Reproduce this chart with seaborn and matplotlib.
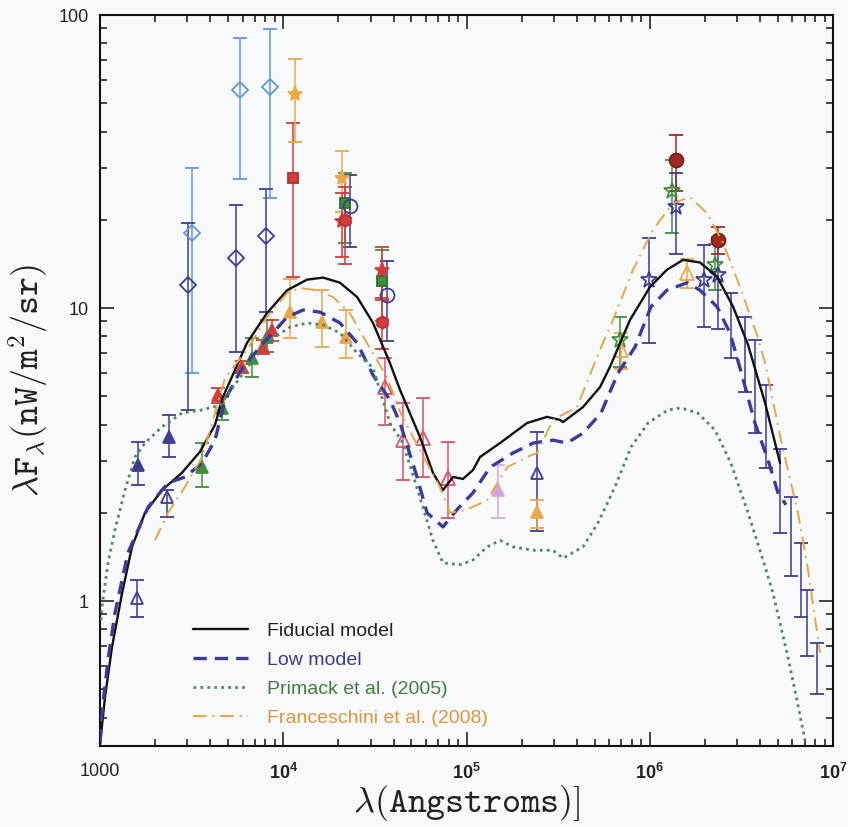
import numpy as np
import pandas as pd
import seaborn as sns
import matplotlib
matplotlib.use("Agg")
import matplotlib.pyplot as plt
from matplotlib.ticker import FixedLocator, FixedFormatter, NullFormatter, LogLocator

# ---------------- model curves (wavelength in Angstrom, nW/m^2/sr) ----------------
fid_wl = [1000, 1065, 1163, 1318, 1495, 1760, 2180, 2800, 3510, 4240, 4690, 5450, 6340, 8150, 10500,
          13500, 16500, 20400, 25300, 30900, 38200, 43400, 55700, 65600, 74400, 84400, 95700, 108500,
          118500, 152400, 213900, 274900, 323900, 336200, 432100, 535300, 606900, 779800, 1.003e6,
          1.24e6, 1.52e6, 1.88e6, 2.33e6, 2.85e6, 3.44e6, 4.26e6, 5.14e6]
fid_val = [0.323, 0.47, 0.697, 1.06, 1.53, 2.0, 2.39, 2.74, 3.23, 3.99, 4.97, 6.14, 7.60, 9.61, 11.5,
           12.5, 12.7, 12.2, 10.9, 8.89, 6.49, 5.25, 3.63, 2.74, 2.39, 2.65, 2.61, 2.80,
           3.10, 3.46, 4.05, 4.25, 4.15, 4.08, 4.59, 5.37, 6.30, 9.10, 11.8,
           13.5, 14.6, 14.3, 12.8, 10.1, 7.48, 4.74, 2.96]

low_wl = [1000, 1025, 1106, 1207, 1421, 1828, 2350, 2910, 3610, 4240, 4810, 5810, 7460, 10500, 12800,
          15900, 20400, 25300, 30900, 38200, 43400, 53700, 60900, 74400, 88700, 108500, 134400, 179400,
          230700, 296500, 353600, 432100, 542000, 671000, 831000, 1.016e6, 1.24e6, 1.6e6, 1.88e6,
          2.33e6, 2.74e6, 3.15e6, 3.75e6, 4.42e6, 5.01e6, 5.54e6]
low_val = [0.330, 0.415, 0.63, 0.91, 1.46, 2.09, 2.53, 2.65, 2.96, 3.54, 4.86, 6.06, 7.36, 9.31, 9.84,
           9.68, 8.89, 7.60, 5.90, 4.86, 4.05, 2.65, 2.0, 1.79, 2.05, 2.34, 2.86, 3.20,
           3.46, 3.54, 3.46, 3.74, 4.38, 6.0, 7.36, 10.1, 11.5, 12.2, 11.5,
           10.1, 8.22, 6.06, 4.05, 3.03, 2.34, 2.13]

pri_wl = [1013, 1025, 1106, 1207, 1369, 1552, 1760, 2180, 2800, 3610, 4520, 5320, 6840, 8470, 10900,
          13500, 16500, 20400, 25300, 30900, 38200, 45000, 55700, 65600, 74400, 92100, 108500, 129400,
          152400, 179400, 230700, 296500, 336200, 432100, 522000, 646000, 790000, 978000, 1.26e6,
          1.48e6, 1.83e6, 2.27e6, 2.77e6, 3.44e6, 4.26e6, 4.71e6, 5.61e6, 6.36e6, 7.03e6]
pri_val = [0.86, 0.954, 1.35, 1.75, 2.39, 3.10, 3.46, 3.93, 4.38, 4.49, 4.66, 5.37, 6.65, 7.76, 8.61,
           8.89, 8.75, 8.22, 7.02, 6.24, 4.05, 3.46, 2.26, 1.61, 1.35, 1.33, 1.38, 1.53,
           1.61, 1.53, 1.49, 1.49, 1.40, 1.53, 1.85, 2.45, 3.35, 4.05, 4.49,
           4.56, 4.38, 3.83, 2.96, 2.0, 1.31, 1.06, 0.665, 0.459, 0.335]

fra_wl = [1995, 2350, 2910, 3610, 4240, 4810, 6340, 8150, 10500, 12300, 15300, 18700, 23100, 28600,
          36800, 43400, 55700, 71600, 81300, 100600, 129400, 166300, 213900, 242600, 296500, 400700,
          535300, 630000, 810000, 1.042e6, 1.34e6, 1.66e6, 2.05e6, 2.51e6, 3.11e6, 3.85e6, 4.26e6,
          5.2e6, 6.44e6, 7.3e6, 8.5e6]
fra_val = [1.61, 2.0, 2.45, 3.10, 4.38, 5.77, 7.2, 9.31, 11.25, 11.7, 11.5, 10.9, 9.61, 7.60,
           5.81, 4.42, 3.27, 2.45, 2.0, 2.05, 2.21, 2.86, 3.10, 3.20, 4.15, 4.59,
           7.2, 9.10, 13.5, 18.5, 22.8, 23.9, 21.1, 16.7, 11.8, 8.09, 6.49,
           3.54, 2.0, 1.28, 0.665]

model_labels = ["Fiducial model", "Low model", "Primack et al. (2005)", "Franceschini et al. (2008)"]

# ---------------- observational points ----------------
# navy open triangles
nv_ot_x = [1590, 2320, 242600]
nv_ot_y = [1.02, 2.26, 2.74]
nv_ot_lo = [0.14, 0.32, 1.0]
nv_ot_hi = [0.16, 0.13, 1.04]
# navy filled triangles
nv_ft_x = [1610, 2380]
nv_ft_y = [2.91, 3.63]
nv_ft_lo = [0.42, 0.54]
nv_ft_hi = [0.58, 0.68]
# navy open diamonds
nv_d_x = [3020, 5520, 8050]
nv_d_y = [12.0, 14.8, 17.6]
nv_d_e = [7.5, 7.7, 7.9]
# light blue open diamonds
lb_d_x = [3175, 5810, 8470]
lb_d_y = [18.0, 55.5, 56.8]
lb_d_e = [12.0, 28.0, 33.0]
# green filled triangles
gr_t_x = [3610, 4630, 6750, 8150]
gr_t_y = [2.86, 4.56, 6.75, 7.96]
gr_t_lo = [0.41, 0.40, 0.95, 0.90]
gr_t_hi = [0.60, 0.40, 1.15, 1.17]
# red filled triangles (rising optical part)
rd_t_x = [4400, 5960, 7750, 8680]
rd_t_y = [5.05, 6.30, 7.36, 8.42]
rd_t_e = [0.3, 0.3, 0.4, 0.7]
# orange filled triangles
or_t_x = [10900, 16300, 22000, 242600]
or_t_y = [9.69, 8.96, 7.96, 2.01]
or_t_lo = [1.79, 1.60, 1.21, 0.23]
or_t_hi = [2.91, 2.54, 1.88, 0.20]
# red filled square
rd_s_x = [11300]
rd_s_y = [27.8]
rd_s_e = [15.0]
# orange stars
or_st_x = [11600, 20900]
or_st_y = [53.8, 27.8]
or_st_e = [17.0, 6.6]
# green filled squares
gr_s_x = [21700, 34600]
gr_s_y = [22.8, 12.4]
gr_s_e = [6.1, 3.4]
# navy open circles
nv_c_x = [23100, 36800]
nv_c_y = [22.3, 11.1]
nv_c_e = [6.2, 3.4]
# red filled hexagons
rd_h_x = [21700, 34600]
rd_h_y = [20.0, 8.96]
rd_h_e = [5.9, 1.7]
# red stars
rd_st_x = [21000, 34600]
rd_st_y = [19.8, 13.5]
rd_st_e = [4.9, 2.7]
# pink-red open triangles
pk_t_x = [35900, 45000, 57900, 79300]
pk_t_y = [5.37, 3.54, 3.60, 2.63]
pk_t_lo = [1.38, 0.95, 0.95, 0.71]
pk_t_hi = [1.40, 1.20, 1.33, 0.86]
# lavender filled triangle
lv_t_x = [148600]
lv_t_y = [2.39]
lv_t_lo = [0.47]
lv_t_hi = [0.52]
# far-IR points
dr_c_x = [1.39e6, 2.36e6]
dr_c_y = [32.0, 17.1]
dr_c_e = [6.9, 1.8]
gr_st_x = [689000, 1.32e6, 2.27e6]
gr_st_y = [7.8, 25.1, 14.0]
gr_st_e = [1.5, 7.0, 2.5]
nv_st_x = [990000, 1.39e6, 1.98e6, 2.36e6]
nv_st_y = [12.5, 22.1, 12.5, 13.0]
nv_st_e = [4.9, 6.8, 3.9, 4.5]
or_ot_x = [697000, 1.60e6]
or_ot_y = [7.2, 13.2]
or_ot_e = [1.0, 1.5]
nv_bar_x = [2.77e6, 3.31e6, 3.75e6, 4.31e6, 5.14e6, 5.90e6, 6.69e6, 7.21e6, 8.18e6]
nv_bar_y = [9.0, 7.24, 5.75, 4.15, 2.5, 1.74, 1.23, 0.87, 0.6]
nv_bar_e = [2.25, 2.07, 2.0, 1.3, 0.8, 0.52, 0.35, 0.22, 0.12]

x_ticks = [1e3, 1e4, 1e5, 1e6, 1e7]
x_ticklabels = ["1000", r"$\mathbf{10^4}$", r"$\mathbf{10^5}$", r"$\mathbf{10^6}$", r"$\mathbf{10^7}$"]
y_ticks = [1, 10, 100]
y_ticklabels = ["1", "10", "100"]

# ---------------- style ----------------
sns.set_theme(style="ticks")
bg = "#f8f9fa"
plt.rcParams["font.family"] = ["Liberation Sans", "DejaVu Sans"]
plt.rcParams["mathtext.fontset"] = "custom"
plt.rcParams["mathtext.rm"] = "Liberation Sans"
plt.rcParams["mathtext.bf"] = "Liberation Sans:bold"
plt.rcParams["mathtext.it"] = "Liberation Sans:italic"

NAVY = "#3d3d94"
LBLUE = "#5b9bd5"
GREEN = "#3f8f3f"
RED = "#d23c3c"
DRED = "#9e2a22"
ORANGE = "#eaa84a"
PINK = "#d4546a"
LAV = "#d2a6e0"

fig = plt.figure(figsize=(8.48, 8.27), dpi=100, facecolor=bg)
ax = fig.add_axes([100 / 848, 1 - 746 / 827, 733 / 848, 731 / 827])
ax.set_facecolor(bg)
ax.set_xscale("log")
ax.set_yscale("log")
ax.set_xlim(1e3, 1e7)
ax.set_ylim(0.32, 100)

cap = 4.8


def pts(x, y, lo, hi, color, marker, filled, ms, z=3, mec=None):
    ax.errorbar(x, y, yerr=[lo, hi], fmt=marker, color=color,
                mfc=(color if filled else "none"), mec=(mec or color), ms=ms, mew=1.3,
                capsize=cap, elinewidth=1.1, capthick=1.1, zorder=z)


pts(lb_d_x, lb_d_y, lb_d_e, lb_d_e, LBLUE, "D", False, 8)
pts(nv_d_x, nv_d_y, nv_d_e, nv_d_e, NAVY, "D", False, 8)
pts(nv_ot_x, nv_ot_y, nv_ot_lo, nv_ot_hi, NAVY, "^", False, 9)
pts(nv_ft_x, nv_ft_y, nv_ft_lo, nv_ft_hi, NAVY, "^", True, 9)
pts(gr_t_x, gr_t_y, gr_t_lo, gr_t_hi, GREEN, "^", True, 9)
pts(rd_t_x, rd_t_y, rd_t_e, rd_t_e, RED, "^", True, 9)
pts(or_t_x, or_t_y, or_t_lo, or_t_hi, ORANGE, "^", True, 9)
pts(rd_s_x, rd_s_y, rd_s_e, rd_s_e, RED, "s", True, 7, mec="#b03030")
pts(or_st_x, or_st_y, or_st_e, or_st_e, ORANGE, "*", True, 11)
pts(gr_s_x, gr_s_y, gr_s_e, gr_s_e, GREEN, "s", True, 7, mec="#2f6f2f")
pts(nv_c_x, nv_c_y, nv_c_e, nv_c_e, NAVY, "o", False, 10)
pts(rd_st_x, rd_st_y, rd_st_e, rd_st_e, RED, "*", True, 11)
pts(rd_h_x, rd_h_y, rd_h_e, rd_h_e, RED, "h", True, 9, mec="#c03030")
pts(pk_t_x, pk_t_y, pk_t_lo, pk_t_hi, PINK, "^", False, 10)
pts(lv_t_x, lv_t_y, lv_t_lo, lv_t_hi, LAV, "^", True, 9)
pts(nv_bar_x, nv_bar_y, nv_bar_e, nv_bar_e, NAVY, "none", False, 1)
pts(gr_st_x, gr_st_y, gr_st_e, gr_st_e, GREEN, "*", False, 12)
pts(nv_st_x, nv_st_y, nv_st_e, nv_st_e, NAVY, "*", False, 12)
pts(or_ot_x, or_ot_y, or_ot_e, or_ot_e, ORANGE, "^", False, 10)
pts(dr_c_x, dr_c_y, dr_c_e, dr_c_e, DRED, "o", True, 10, mec="#7a2018")

# ---------------- model curves ----------------
sns.lineplot(x=fid_wl, y=fid_val, ax=ax, color="#111111", lw=1.7, label=model_labels[0],
             sort=False, estimator=None, zorder=5)
sns.lineplot(x=low_wl, y=low_val, ax=ax, color="#3b3b9a", lw=2.4, label=model_labels[1],
             sort=False, estimator=None, zorder=5, linestyle=(0, (4.0, 2.4)))
sns.lineplot(x=pri_wl, y=pri_val, ax=ax, color="#4a8c5c", lw=2.0, label=model_labels[2],
             sort=False, estimator=None, zorder=5, linestyle=(0, (1, 1.5)))
sns.lineplot(x=fra_wl, y=fra_val, ax=ax, color="#e5a548", lw=1.4, label=model_labels[3],
             sort=False, estimator=None, zorder=5, linestyle=(0, (7, 3, 1, 3)))

ax.set_xlim(1e3, 1e7)
ax.set_ylim(0.32, 100)

# ---------------- axes / ticks ----------------
ax.xaxis.set_major_locator(FixedLocator(x_ticks))
ax.xaxis.set_major_formatter(FixedFormatter(x_ticklabels))
ax.xaxis.set_minor_locator(LogLocator(base=10, subs=np.arange(2, 10)))
ax.xaxis.set_minor_formatter(NullFormatter())
ax.yaxis.set_major_locator(FixedLocator(y_ticks))
ax.yaxis.set_major_formatter(FixedFormatter(y_ticklabels))
ax.yaxis.set_minor_locator(LogLocator(base=10, subs=np.arange(2, 10)))
ax.yaxis.set_minor_formatter(NullFormatter())

ax.tick_params(which="both", direction="in", top=True, right=True, color="#111111", width=1.1)
ax.tick_params(which="major", length=10)
ax.tick_params(which="minor", length=5)
ax.tick_params(axis="x", which="major", pad=12, labelsize=13, labelcolor="#222222")
ax.tick_params(axis="y", which="major", pad=8, labelsize=13, labelcolor="#222222")
for s in ax.spines.values():
    s.set_linewidth(1.5)
    s.set_color("#111111")

ax.set_xlabel(r"$\lambda\mathtt{(Angstroms)]}$", fontsize=26, math_fontfamily="cm", color="#222222")
ax.set_ylabel(r"$\lambda\mathtt{F}_{\lambda}\mathtt{(nW/m^{2}/sr)}$", fontsize=26, math_fontfamily="cm",
              color="#222222")
ax.xaxis.set_label_coords(0.5, -0.05)
ax.yaxis.set_label_coords(-0.068, 0.5)

leg = ax.legend(loc="upper left", bbox_to_anchor=(0.127, 0.169), frameon=False, fontsize=14,
                handlelength=2.8, handletextpad=1.0, labelspacing=0.58, borderpad=0,
                borderaxespad=0, labelcolor=["#222222", "#3a3a8c", "#3f7f3f", "#d9963c"])

fig.savefig("out.png", dpi=100, facecolor=bg)
